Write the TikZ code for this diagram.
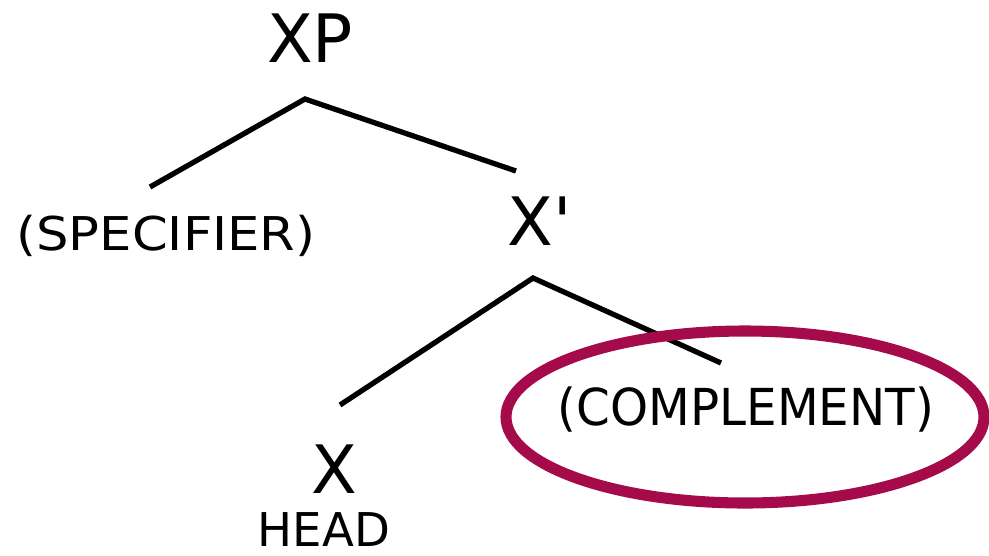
\documentclass[tikz,border=0pt]{standalone}
\usepackage{fontspec}
\usepackage{graphicx}
\setmainfont{DejaVu Sans}
\definecolor{circ}{HTML}{A50A4A}
\begin{document}
\begin{tikzpicture}[x=0.02cm,y=-0.02cm,
  big/.style={font=\fontsize{38}{40}\selectfont, inner sep=0pt, anchor=base},
  small/.style={font=\fontsize{26.5}{28}\selectfont, inner sep=0pt, anchor=base},
  mid/.style={font=\fontsize{29}{31}\selectfont, inner sep=0pt, anchor=base},
  branch/.style={line width=3pt, black},
  ring/.style={line width=6.3pt, circ}]
\useasboundingbox (0,0) rectangle (989,555);
\node[big] (xp) at (310,62) {XP};
\node[small] (spec) at (166,250) {\scalebox{1.1}[1]{(SPECIFIER)}};
\node[big] (xbar) at (540,245) {X\textquotesingle};
\node[mid] (comp) at (746,425) {\scalebox{0.95}[1]{(COMPLEMENT)}};
\node[big] (x) at (334,493) {X};
\node[small] (head) at (324,546) {HEAD};
\coordinate (xptop) at (305,99);
\coordinate (specend) at (150,187);
\coordinate (xbarend) at (516,171);
\coordinate (xbartop) at (533,278);
\coordinate (xend) at (340,405);
\coordinate (compend) at (721,363);
\draw[branch] (specend) -- (xptop) -- (xbarend);
\draw[branch] (xend) -- (xbartop) -- (compend);
\draw[ring] (745,417) ellipse [x radius=239, y radius=86];
\end{tikzpicture}
\end{document}
